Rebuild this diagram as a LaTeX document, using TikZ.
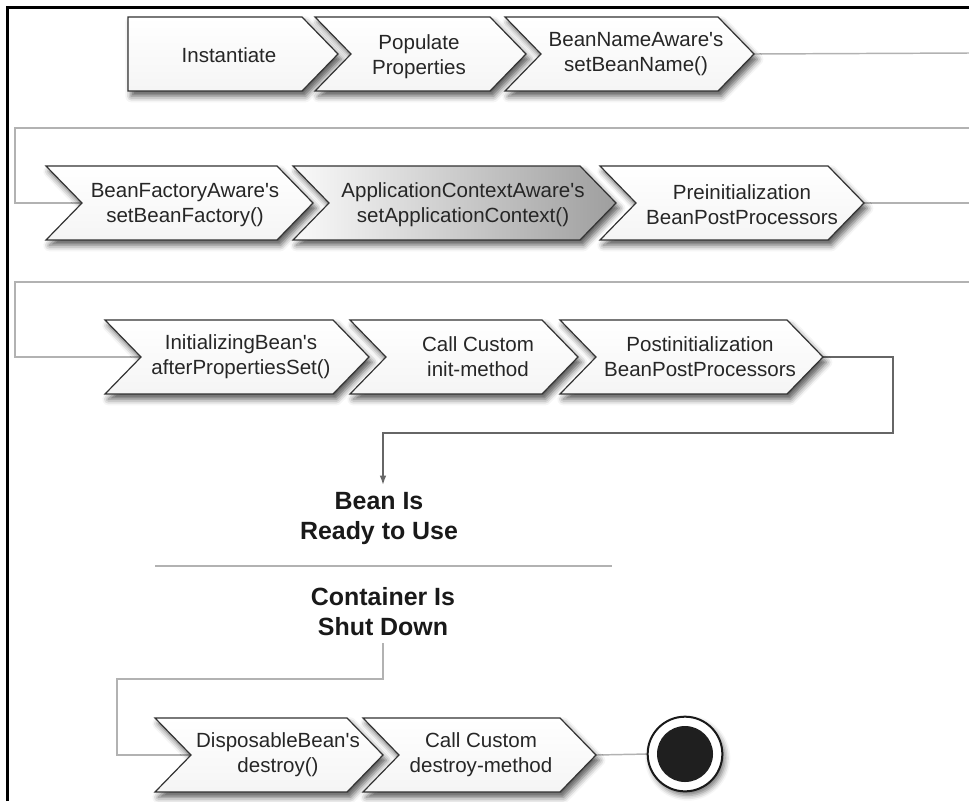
\documentclass[tikz,border=0pt]{standalone}
\usepackage{fontspec}
\setmainfont{Liberation Sans}[Ligatures=TeXOff]
\usetikzlibrary{shadows.blur, arrows.meta, backgrounds}
\def\hh{37}
\def\dd{36}
\newcommand\notchchev[5]{%
  \path[#1] (#3,#5-\hh) -- (#4,#5-\hh) -- (#4+\dd,#5) -- (#4,#5+\hh) -- (#3,#5+\hh) -- (#3+\dd,#5) -- cycle;
  \coordinate (#2-in) at (#3+\dd,#5);
  \coordinate (#2-out) at (#4+\dd,#5);
}
\newcommand\flatchev[5]{%
  \path[#1] (#3,#5-\hh) -- (#4,#5-\hh) -- (#4+\dd,#5) -- (#4,#5+\hh) -- (#3,#5+\hh) -- cycle;
  \coordinate (#2-in) at (#3,#5);
  \coordinate (#2-out) at (#4+\dd,#5);
}
\tikzset{
  chev/.style={draw=black!80, line width=0.9pt, line join=miter, top color=white, bottom color=black!4,
    blur shadow={shadow xshift=2.5pt, shadow yshift=-4pt, shadow blur radius=4.5pt, shadow opacity=65}},
  chevdark/.style={chev, left color=black!2, right color=black!38},
  lbl/.style={align=center, font=\fontsize{15.4}{18.8}\selectfont, text=black!85, inner sep=0pt},
  big/.style={align=center, font=\fontsize{18.7}{22.5}\selectfont\bfseries, text=black!90, inner sep=0pt},
  link/.style={draw=black!30, line width=1.1pt},
  linkdark/.style={draw=black!60, line width=1.1pt},
}
\begin{document}
\begin{tikzpicture}[x=0.75pt, y=-0.75pt]
\useasboundingbox (0,0) rectangle (969,801);
% frame
\draw[line width=2.3pt] (7.5,801) -- (7.5,7.5) -- (969,7.5);
% coordinates for connector bends / free ends
\coordinate (r1) at (969,53);
\coordinate (w1a) at (969,128);
\coordinate (w1b) at (15,128);
\coordinate (r2) at (969,203);
\coordinate (w2a) at (969,282);
\coordinate (w2b) at (15,282);
\coordinate (k1) at (893,433);
\coordinate (k2) at (383,433);
\coordinate (shutOut) at (383,643);
\coordinate (k4) at (117,679);
\coordinate (sepA) at (155,566);
\coordinate (sepB) at (612,566);
% end state
\node[circle, draw=black!90, line width=1.5pt, fill=white, minimum size=56pt, inner sep=0pt, outer sep=0pt,
  blur shadow={shadow xshift=2pt, shadow yshift=-3pt, shadow blur radius=4pt, shadow opacity=55}] (endo) at (685,754) {};
% shapes
\flatchev{chev}{inst}{128}{302}{54}
\notchchev{chev}{pop}{315}{490}{54}
\notchchev{chev}{bna}{505}{718}{54}
\notchchev{chev}{bfa}{46}{277}{203}
\notchchev{chevdark}{aca}{293}{580}{203}
\notchchev{chev}{pre}{600}{828}{203}
\notchchev{chev}{ib}{105}{333}{357}
\notchchev{chev}{cci}{350}{542}{357}
\notchchev{chev}{post}{560}{787}{357}
\notchchev{chev}{db}{155}{347}{755}
\notchchev{chev}{ccd}{363}{560}{755}
% labels
\node[lbl] (tInst) at (229,55) {Instantiate};
\node[lbl] (tPop) at (419,57) {Populate\\Properties};
\node[lbl] (tBna) at (636,54) {BeanNameAware's\\setBeanName()};
\node[lbl] (tBfa) at (185,205) {BeanFactoryAware's\\setBeanFactory()};
\node[lbl] (tAca) at (463,205) {ApplicationContextAware's\\setApplicationContext()};
\node[lbl] (tPre) at (742,205) {Preinitialization\\BeanPostProcessors};
\node[lbl] (tIb) at (241,357) {InitializingBean's\\afterPropertiesSet()};
\node[lbl] (tCci) at (478,357) {Call Custom\\init-method};
\node[lbl] (tPost) at (700,357) {Postinitialization\\BeanPostProcessors};
\node[lbl] (tDb) at (278,755) {DisposableBean's\\destroy()};
\node[lbl] (tCcd) at (481,755) {Call Custom\\destroy-method};
\node[big] (ready) at (379,518) {Bean Is\\Ready to Use};
\node[big] (shut) at (383,612) {Container Is\\Shut Down};
% inner dot of end state
\node[circle, fill=black!88, minimum size=42pt, inner sep=0pt] (endi) at (endo.center) {};
% connectors
\begin{scope}[on background layer]
\draw[link] (bna-out) -- (r1);
\draw[link] (w1a) -- (w1b) |- (bfa-in);
\draw[link] (pre-out) -- (r2);
\draw[link] (w2a) -- (w2b) |- (ib-in);
\draw[linkdark, -{Latex[length=7pt, width=5pt]}, shorten >=5pt] (post-out) -| (k1) -- (k2) -- (ready.north -| k2);
\draw[link] (sepA) -- (sepB);
\draw[link] (shutOut) |- (k4) |- (db-in);
\draw[link] (ccd-out) -- (endo.west);
\end{scope}
\end{tikzpicture}
\end{document}
